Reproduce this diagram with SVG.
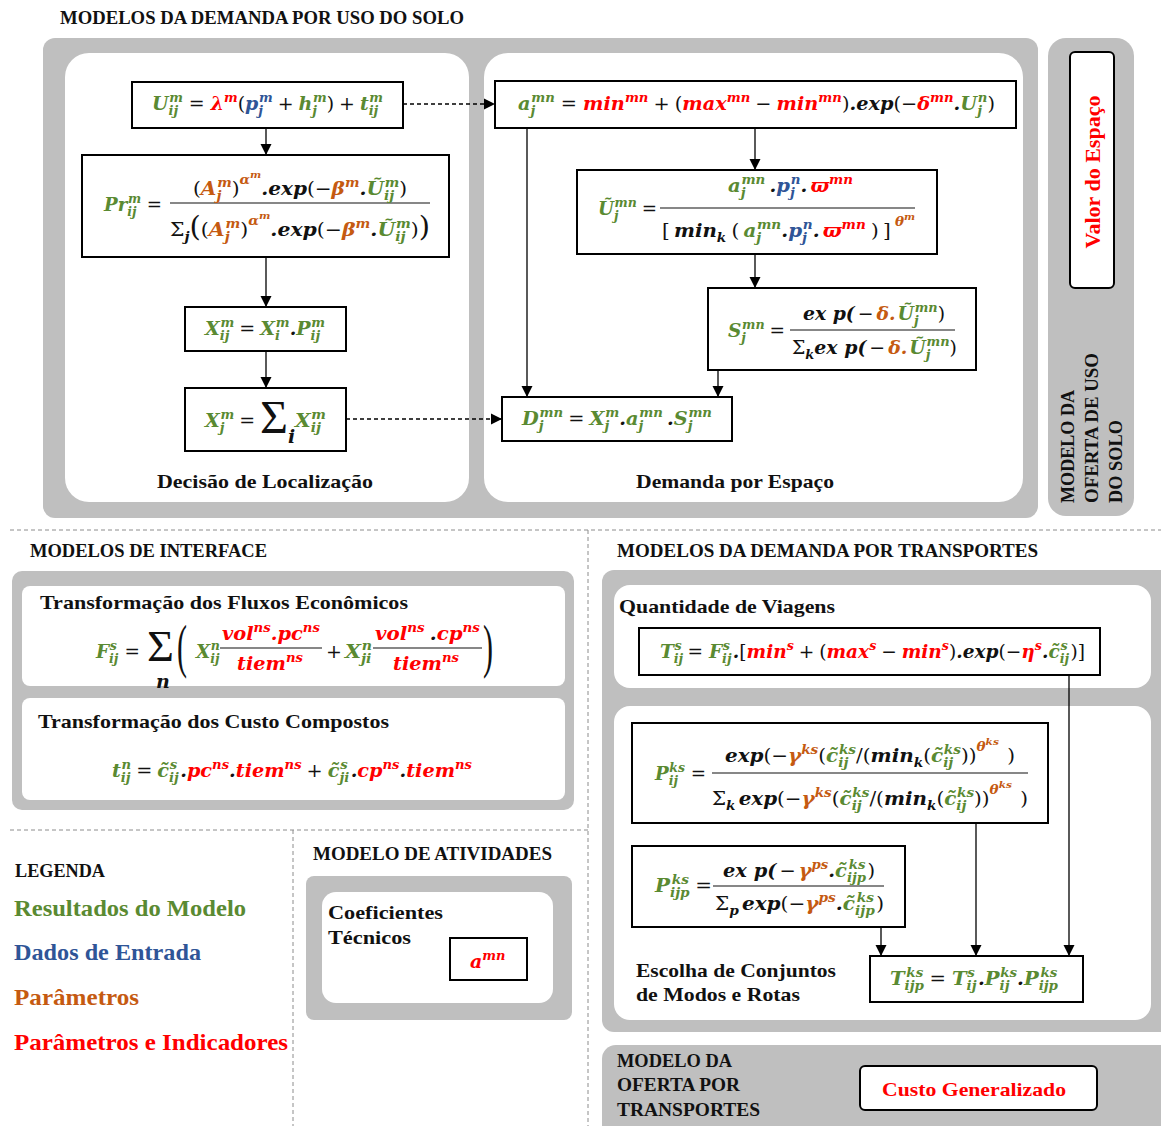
<svg xmlns="http://www.w3.org/2000/svg" width="1161" height="1126" viewBox="0 0 1161 1126">
  <defs>
    <marker id="arrow" markerUnits="userSpaceOnUse" markerWidth="12" markerHeight="12" refX="11" refY="6" orient="auto">
      <path d="M0,0.5 L11,6 L0,11.5 z" fill="#000"/>
    </marker>
    <style>
      .panel{fill:#BFBFBF}
      .inner{fill:#FFFFFF}
      .box{fill:#FFFFFF;stroke:#000;stroke-width:2}
      .sep{stroke:#8C8C8C;stroke-width:1;stroke-dasharray:4 3;fill:none}
      .conn{stroke:#000;stroke-width:1.3;fill:none;marker-end:url(#arrow)}
      .dash{stroke-dasharray:4 3}
      .frac{stroke:#111;stroke-width:1.2}
      .t{font-family:"Liberation Serif","DejaVu Serif",serif;font-weight:bold;fill:#111}
      .thin{font-weight:normal}
      .hd{font-size:19px}
      .lb{font-size:19px}
      .lg{font-size:23px}
      .m{font-family:"DejaVu Serif","Liberation Serif",serif;font-weight:bold;font-style:italic;font-size:19px;fill:#111}
      .u{font-style:normal;font-weight:normal}
      .sb{font-size:13px;baseline-shift:-5px}
      .sp{font-size:13px;baseline-shift:8px}
      .sp2{font-size:13px;baseline-shift:11px}
      .sp3{font-size:10px;baseline-shift:17px}
      .big{font-size:27px}
      .g{fill:#5A8A32}
      .b{fill:#2F5597}
      .o{fill:#C55A11}
      .r{fill:#FF0000}
    </style>
  </defs>

  <!-- section dividers -->
  <g id="dividers">
    <line class="sep" x1="10" y1="530" x2="1161" y2="530"/>
    <line class="sep" x1="588" y1="530" x2="588" y2="1126"/>
    <line class="sep" x1="10" y1="830" x2="588" y2="830"/>
    <line class="sep" x1="293" y1="830" x2="293" y2="1126"/>
  </g>

  <!-- land-use demand models -->
  <g id="land-use-demand">
    <text class="t hd" x="60" y="24" textLength="404" lengthAdjust="spacingAndGlyphs">MODELOS DA DEMANDA POR USO DO SOLO</text>
    <rect class="panel" x="43" y="38" width="995" height="480" rx="12"/>
    <rect class="inner" x="65" y="53" width="404" height="449" rx="24"/>
    <rect class="inner" x="484" y="53" width="539" height="449" rx="24"/>
    <text class="t lb" x="157" y="488" textLength="216" lengthAdjust="spacingAndGlyphs">Decisão de Localização</text>
    <text class="t lb" x="636" y="488" textLength="198" lengthAdjust="spacingAndGlyphs">Demanda por Espaço</text>
  </g>

  <!-- land-use supply model -->
  <g id="land-use-supply">
    <rect class="panel" x="1048" y="38" width="86" height="478" rx="18"/>
    <g id="node-space-value">
      <rect class="box" x="1070" y="52" width="44" height="236" rx="5"/>
      <text class="t" font-size="20" style="fill:#FF0000" text-anchor="middle" transform="translate(1100,172) rotate(-90)" textLength="153" lengthAdjust="spacingAndGlyphs">Valor do Espaço</text>
    </g>
    <text class="t" font-size="18" transform="translate(1074,503) rotate(-90)" textLength="113" lengthAdjust="spacingAndGlyphs">MODELO DA</text>
    <text class="t" font-size="18" transform="translate(1098,503) rotate(-90)" textLength="150" lengthAdjust="spacingAndGlyphs">OFERTA DE USO</text>
    <text class="t" font-size="18" transform="translate(1122,503) rotate(-90)" textLength="83" lengthAdjust="spacingAndGlyphs">DO SOLO</text>
  </g>

  <!-- location decision -->
  <g id="node-utility">
    <rect class="box" x="132" y="82" width="271" height="46"/>
    <text class="m" x="152" y="110" textLength="231" lengthAdjust="spacingAndGlyphs"><tspan class="g">U</tspan><tspan class="g sb">ij</tspan><tspan class="g sp" dx="-9">m</tspan><tspan class="u" dx="6">=</tspan><tspan class="r" dx="6">λ</tspan><tspan class="r sp">m</tspan><tspan class="u">(</tspan><tspan class="b">p</tspan><tspan class="b sb">j</tspan><tspan class="b sp" dx="-4">m</tspan><tspan class="u" dx="5">+</tspan><tspan class="g" dx="5">h</tspan><tspan class="g sb">j</tspan><tspan class="g sp" dx="-4">m</tspan><tspan class="u">)</tspan><tspan class="u" dx="5">+</tspan><tspan class="g" dx="5">t</tspan><tspan class="g sb">ij</tspan><tspan class="g sp" dx="-9">m</tspan></text>
  </g>

  <g id="node-probability">
    <rect class="box" x="82" y="155" width="367" height="102"/>
    <text class="m" x="104" y="211" textLength="58" lengthAdjust="spacingAndGlyphs"><tspan class="g">Pr</tspan><tspan class="g sb">ij</tspan><tspan class="g sp" dx="-9">m</tspan><tspan class="u" dx="6">=</tspan></text>
    <line class="frac" x1="170" y1="203" x2="430" y2="203"/>
    <text class="m" x="193" y="195" textLength="214" lengthAdjust="spacingAndGlyphs"><tspan class="u">(</tspan><tspan class="o">A</tspan><tspan class="o sb">j</tspan><tspan class="o sp" dx="-4">m</tspan><tspan class="u">)</tspan><tspan class="o sp2">α</tspan><tspan class="o sp3">m</tspan><tspan>.exp</tspan><tspan class="u">(−</tspan><tspan class="o">β</tspan><tspan class="o sp">m</tspan><tspan>.</tspan><tspan class="g">Ũ</tspan><tspan class="g sb">ij</tspan><tspan class="g sp" dx="-9">m</tspan><tspan class="u">)</tspan></text>
    <text class="m" x="170" y="236" textLength="260" lengthAdjust="spacingAndGlyphs"><tspan class="u">Σ</tspan><tspan class="sb">j</tspan><tspan class="u big">(</tspan><tspan class="u">(</tspan><tspan class="o">A</tspan><tspan class="o sb">j</tspan><tspan class="o sp" dx="-4">m</tspan><tspan class="u">)</tspan><tspan class="o sp2">α</tspan><tspan class="o sp3">m</tspan><tspan>.exp</tspan><tspan class="u">(−</tspan><tspan class="o">β</tspan><tspan class="o sp">m</tspan><tspan>.</tspan><tspan class="g">Ũ</tspan><tspan class="g sb">ij</tspan><tspan class="g sp" dx="-9">m</tspan><tspan class="u">)</tspan><tspan class="u big">)</tspan></text>
  </g>

  <g id="node-flows">
    <rect class="box" x="185" y="307" width="161" height="44"/>
    <text class="m" x="205" y="335" textLength="120" lengthAdjust="spacingAndGlyphs"><tspan class="g">X</tspan><tspan class="g sb">ij</tspan><tspan class="g sp" dx="-9">m</tspan><tspan class="u" dx="5">=</tspan><tspan class="g" dx="5">X</tspan><tspan class="g sb">i</tspan><tspan class="g sp" dx="-4">m</tspan><tspan>.</tspan><tspan class="g">P</tspan><tspan class="g sb">ij</tspan><tspan class="g sp" dx="-9">m</tspan></text>
  </g>

  <g id="node-total">
    <rect class="box" x="185" y="388" width="161" height="63"/>
    <text class="m" x="205" y="427" textLength="50" lengthAdjust="spacingAndGlyphs"><tspan class="g">X</tspan><tspan class="g sb">j</tspan><tspan class="g sp" dx="-4">m</tspan><tspan class="u" dx="5">=</tspan></text>
    <text class="t thin" x="260" y="433" font-size="46" textLength="28" lengthAdjust="spacingAndGlyphs">Σ</text>
    <text class="m" x="288" y="443" font-size="13">i</text>
    <text class="m" x="295" y="427" textLength="31" lengthAdjust="spacingAndGlyphs"><tspan class="g">X</tspan><tspan class="g sb">ij</tspan><tspan class="g sp" dx="-9">m</tspan></text>
  </g>

  <!-- space demand -->
  <g id="node-coefficient">
    <rect class="box" x="495" y="81" width="521" height="47"/>
    <text class="m" x="518" y="110" textLength="477" lengthAdjust="spacingAndGlyphs"><tspan class="g">a</tspan><tspan class="g sb">j</tspan><tspan class="g sp" dx="-4">mn</tspan><tspan class="u" dx="6">=</tspan><tspan class="r" dx="6">min</tspan><tspan class="r sp">mn</tspan><tspan class="u" dx="5">+</tspan><tspan class="u" dx="5">(</tspan><tspan class="r">max</tspan><tspan class="r sp">mn</tspan><tspan class="u" dx="5">−</tspan><tspan class="r" dx="5">min</tspan><tspan class="r sp">mn</tspan><tspan class="u">)</tspan><tspan>.exp</tspan><tspan class="u">(−</tspan><tspan class="r">δ</tspan><tspan class="r sp">mn</tspan><tspan>.</tspan><tspan class="g">U</tspan><tspan class="g sb">j</tspan><tspan class="g sp" dx="-4">n</tspan><tspan class="u">)</tspan></text>
  </g>

  <g id="node-relative-utility">
    <rect class="box" x="577" y="170" width="360" height="84"/>
    <text class="m" x="598" y="215" textLength="59" lengthAdjust="spacingAndGlyphs"><tspan class="g">Ũ</tspan><tspan class="g sb">j</tspan><tspan class="g sp" dx="-4">mn</tspan><tspan class="u" dx="5">=</tspan></text>
    <line class="frac" x1="660" y1="208" x2="915" y2="208"/>
    <text class="m" x="728" y="192" textLength="125" lengthAdjust="spacingAndGlyphs"><tspan class="g">a</tspan><tspan class="g sb">j</tspan><tspan class="g sp" dx="-4">mn</tspan><tspan dx="4">.</tspan><tspan class="b">p</tspan><tspan class="b sb">j</tspan><tspan class="b sp" dx="-4">n</tspan><tspan>.</tspan><tspan class="r" dx="3">ϖ</tspan><tspan class="r sp">mn</tspan></text>
    <text class="m" x="662" y="237" textLength="253" lengthAdjust="spacingAndGlyphs"><tspan class="u">[</tspan><tspan dx="4">min</tspan><tspan class="sb">k</tspan><tspan class="u" dx="5">(</tspan><tspan class="g" dx="4">a</tspan><tspan class="g sb">j</tspan><tspan class="g sp" dx="-4">mn</tspan><tspan>.</tspan><tspan class="b">p</tspan><tspan class="b sb">j</tspan><tspan class="b sp" dx="-4">n</tspan><tspan>.</tspan><tspan class="r" dx="3">ϖ</tspan><tspan class="r sp">mn</tspan><tspan class="u" dx="5">)</tspan><tspan class="u" dx="4">]</tspan><tspan class="o sp2" dx="4">θ</tspan><tspan class="o sp3">m</tspan></text>
  </g>

  <g id="node-share">
    <rect class="box" x="708" y="288" width="268" height="82"/>
    <text class="m" x="728" y="337" textLength="57" lengthAdjust="spacingAndGlyphs"><tspan class="g">S</tspan><tspan class="g sb">j</tspan><tspan class="g sp" dx="-4">mn</tspan><tspan class="u" dx="5">=</tspan></text>
    <line class="frac" x1="790" y1="330" x2="955" y2="330"/>
    <text class="m" x="803" y="320" textLength="142" lengthAdjust="spacingAndGlyphs"><tspan>ex p(</tspan><tspan class="u" dx="3">−</tspan><tspan class="o" dx="3">δ</tspan><tspan class="o">.</tspan><tspan class="g" dx="2">Ũ</tspan><tspan class="g sb">j</tspan><tspan class="g sp" dx="-4">mn</tspan><tspan class="u">)</tspan></text>
    <text class="m" x="792" y="354" textLength="165" lengthAdjust="spacingAndGlyphs"><tspan class="u">Σ</tspan><tspan class="sb">k</tspan><tspan>ex p(</tspan><tspan class="u" dx="3">−</tspan><tspan class="o" dx="3">δ</tspan><tspan class="o">.</tspan><tspan class="g" dx="2">Ũ</tspan><tspan class="g sb">j</tspan><tspan class="g sp" dx="-4">mn</tspan><tspan class="u">)</tspan></text>
  </g>

  <g id="node-demand">
    <rect class="box" x="502" y="397" width="230" height="44"/>
    <text class="m" x="522" y="425" textLength="190" lengthAdjust="spacingAndGlyphs"><tspan class="g">D</tspan><tspan class="g sb">j</tspan><tspan class="g sp" dx="-4">mn</tspan><tspan class="u" dx="5">=</tspan><tspan class="g" dx="5">X</tspan><tspan class="g sb">j</tspan><tspan class="g sp" dx="-4">m</tspan><tspan>.</tspan><tspan class="g">a</tspan><tspan class="g sb">j</tspan><tspan class="g sp" dx="-4">mn</tspan><tspan dx="4">.</tspan><tspan class="g">S</tspan><tspan class="g sb">j</tspan><tspan class="g sp" dx="-4">mn</tspan></text>
  </g>

  <!-- interface models -->
  <g id="interface">
    <text class="t hd" x="30" y="557" textLength="237" lengthAdjust="spacingAndGlyphs">MODELOS DE INTERFACE</text>
    <rect class="panel" x="12" y="571" width="562" height="239" rx="10"/>
    <rect class="inner" x="22" y="586" width="543" height="100" rx="8"/>
    <rect class="inner" x="22" y="698" width="543" height="102" rx="8"/>
  </g>

  <g id="node-economic-flows">
    <text class="t lb" x="40" y="609" textLength="368" lengthAdjust="spacingAndGlyphs">Transformação dos Fluxos Econômicos</text>
    <text class="m" x="96" y="658" textLength="44" lengthAdjust="spacingAndGlyphs"><tspan class="g">F</tspan><tspan class="g sb">ij</tspan><tspan class="g sp" dx="-9">s</tspan><tspan class="u" dx="8">=</tspan></text>
    <text class="t thin" x="147" y="661" font-size="45" textLength="27" lengthAdjust="spacingAndGlyphs">Σ</text>
    <text class="m" x="156" y="688" font-size="13">n</text>
    <text class="t thin" x="177" y="666" font-size="60" textLength="10" lengthAdjust="spacingAndGlyphs">(</text>
    <text class="m" x="196" y="658" textLength="24" lengthAdjust="spacingAndGlyphs"><tspan class="g">X</tspan><tspan class="g sb">ij</tspan><tspan class="g sp" dx="-9">n</tspan></text>
    <line class="frac" x1="220" y1="648" x2="322" y2="648"/>
    <text class="m r" x="222" y="640" textLength="98" lengthAdjust="spacingAndGlyphs">vol<tspan class="sp">ns</tspan>.pc<tspan class="sp">ns</tspan></text>
    <text class="m r" x="237" y="670" textLength="66" lengthAdjust="spacingAndGlyphs">tiem<tspan class="sp">ns</tspan></text>
    <text class="m u" x="326" y="658">+</text>
    <text class="m" x="345" y="658" textLength="27" lengthAdjust="spacingAndGlyphs"><tspan class="g">X</tspan><tspan class="g sb">ji</tspan><tspan class="g sp" dx="-9">n</tspan></text>
    <line class="frac" x1="373" y1="648" x2="482" y2="648"/>
    <text class="m" x="375" y="640" textLength="105" lengthAdjust="spacingAndGlyphs"><tspan class="r">vol</tspan><tspan class="r sp">ns</tspan><tspan dx="5">.</tspan><tspan class="r">cp</tspan><tspan class="r sp">ns</tspan></text>
    <text class="m r" x="393" y="670" textLength="66" lengthAdjust="spacingAndGlyphs">tiem<tspan class="sp">ns</tspan></text>
    <text class="t thin" x="483" y="666" font-size="60" textLength="10" lengthAdjust="spacingAndGlyphs">)</text>
  </g>

  <g id="node-composite-costs">
    <text class="t lb" x="38" y="728" textLength="351" lengthAdjust="spacingAndGlyphs">Transformação dos Custo Compostos</text>
    <text class="m" x="112" y="777" textLength="360" lengthAdjust="spacingAndGlyphs"><tspan class="g">t</tspan><tspan class="g sb">ij</tspan><tspan class="g sp" dx="-9">n</tspan><tspan class="u" dx="5">=</tspan><tspan class="g" dx="5">c̃</tspan><tspan class="g sb">ij</tspan><tspan class="g sp" dx="-9">s</tspan><tspan dx="3">.</tspan><tspan class="r">pc</tspan><tspan class="r sp">ns</tspan><tspan>.</tspan><tspan class="r">tiem</tspan><tspan class="r sp">ns</tspan><tspan class="u" dx="5">+</tspan><tspan class="g" dx="5">c̃</tspan><tspan class="g sb">ji</tspan><tspan class="g sp" dx="-9">s</tspan><tspan dx="3">.</tspan><tspan class="r">cp</tspan><tspan class="r sp">ns</tspan><tspan>.</tspan><tspan class="r">tiem</tspan><tspan class="r sp">ns</tspan></text>
  </g>

  <!-- transport demand models -->
  <g id="transport-demand">
    <text class="t hd" x="617" y="557" textLength="421" lengthAdjust="spacingAndGlyphs">MODELOS DA DEMANDA POR TRANSPORTES</text>
    <rect class="panel" x="602" y="570" width="575" height="462" rx="12"/>
    <rect class="inner" x="614" y="585" width="537" height="103" rx="16"/>
    <rect class="inner" x="614" y="706" width="537" height="314" rx="16"/>
    <text class="t lb" x="619" y="613" textLength="216" lengthAdjust="spacingAndGlyphs">Quantidade de Viagens</text>
    <text class="t lb" x="636" y="977" textLength="200" lengthAdjust="spacingAndGlyphs">Escolha de Conjuntos</text>
    <text class="t lb" x="636" y="1001" textLength="164" lengthAdjust="spacingAndGlyphs">de Modos e Rotas</text>
  </g>

  <g id="node-trips">
    <rect class="box" x="639" y="628" width="461" height="47"/>
    <text class="m" x="660" y="658" textLength="425" lengthAdjust="spacingAndGlyphs"><tspan class="g">T</tspan><tspan class="g sb">ij</tspan><tspan class="g sp" dx="-9">s</tspan><tspan class="u" dx="6">=</tspan><tspan class="g" dx="6">F</tspan><tspan class="g sb">ij</tspan><tspan class="g sp" dx="-9">s</tspan><tspan dx="3">.</tspan><tspan class="u">[</tspan><tspan class="r">min</tspan><tspan class="r sp">s</tspan><tspan class="u" dx="5">+</tspan><tspan class="u" dx="5">(</tspan><tspan class="r">max</tspan><tspan class="r sp">s</tspan><tspan class="u" dx="5">−</tspan><tspan class="r" dx="5">min</tspan><tspan class="r sp">s</tspan><tspan class="u">)</tspan><tspan>.exp</tspan><tspan class="u">(−</tspan><tspan class="r">η</tspan><tspan class="r sp">s</tspan><tspan>.</tspan><tspan class="g">c̃</tspan><tspan class="g sb">ij</tspan><tspan class="g sp" dx="-9">s</tspan><tspan class="u" dx="3">)]</tspan></text>
  </g>

  <g id="node-mode-choice">
    <rect class="box" x="632" y="723" width="416" height="100"/>
    <text class="m" x="655" y="780" textLength="51" lengthAdjust="spacingAndGlyphs"><tspan class="g">P</tspan><tspan class="g sb">ij</tspan><tspan class="g sp" dx="-9">ks</tspan><tspan class="u" dx="6">=</tspan></text>
    <line class="frac" x1="712" y1="773" x2="1028" y2="773"/>
    <text class="m" x="725" y="762" textLength="290" lengthAdjust="spacingAndGlyphs"><tspan>exp</tspan><tspan class="u">(−</tspan><tspan class="o">γ</tspan><tspan class="o sp">ks</tspan><tspan class="u">(</tspan><tspan class="g">c̃</tspan><tspan class="g sb">ij</tspan><tspan class="g sp" dx="-9">ks</tspan><tspan class="u">/(</tspan><tspan>min</tspan><tspan class="sb">k</tspan><tspan class="u">(</tspan><tspan class="g">c̃</tspan><tspan class="g sb">ij</tspan><tspan class="g sp" dx="-9">ks</tspan><tspan class="u">))</tspan><tspan class="o sp2">θ</tspan><tspan class="o sp3">ks</tspan><tspan class="u" dx="8">)</tspan></text>
    <text class="m" x="712" y="805" textLength="316" lengthAdjust="spacingAndGlyphs"><tspan class="u">Σ</tspan><tspan class="sb">k</tspan><tspan dx="3">exp</tspan><tspan class="u">(−</tspan><tspan class="o">γ</tspan><tspan class="o sp">ks</tspan><tspan class="u">(</tspan><tspan class="g">c̃</tspan><tspan class="g sb">ij</tspan><tspan class="g sp" dx="-9">ks</tspan><tspan class="u">/(</tspan><tspan>min</tspan><tspan class="sb">k</tspan><tspan class="u">(</tspan><tspan class="g">c̃</tspan><tspan class="g sb">ij</tspan><tspan class="g sp" dx="-9">ks</tspan><tspan class="u">))</tspan><tspan class="o sp2">θ</tspan><tspan class="o sp3">ks</tspan><tspan class="u" dx="8">)</tspan></text>
  </g>

  <g id="node-route-choice">
    <rect class="box" x="632" y="846" width="273" height="81"/>
    <text class="m" x="655" y="892" textLength="57" lengthAdjust="spacingAndGlyphs"><tspan class="g">P</tspan><tspan class="g sb">ijp</tspan><tspan class="g sp" dx="-17">ks</tspan><tspan class="u" dx="6">=</tspan></text>
    <line class="frac" x1="713" y1="886" x2="884" y2="886"/>
    <text class="m" x="723" y="877" textLength="152" lengthAdjust="spacingAndGlyphs"><tspan>ex p(</tspan><tspan class="u" dx="3">−</tspan><tspan class="o" dx="3">γ</tspan><tspan class="o sp">ps</tspan><tspan>.</tspan><tspan class="g">c̃</tspan><tspan class="g sb">ijp</tspan><tspan class="g sp" dx="-17">ks</tspan><tspan class="u" dx="2">)</tspan></text>
    <text class="m" x="715" y="910" textLength="169" lengthAdjust="spacingAndGlyphs"><tspan class="u">Σ</tspan><tspan class="sb">p</tspan><tspan dx="3">exp</tspan><tspan class="u">(−</tspan><tspan class="o">γ</tspan><tspan class="o sp">ps</tspan><tspan>.</tspan><tspan class="g">c̃</tspan><tspan class="g sb">ijp</tspan><tspan class="g sp" dx="-17">ks</tspan><tspan class="u" dx="2">)</tspan></text>
  </g>

  <g id="node-route-trips">
    <rect class="box" x="870" y="956" width="213" height="46"/>
    <text class="m" x="890" y="985" textLength="168" lengthAdjust="spacingAndGlyphs"><tspan class="g">T</tspan><tspan class="g sb">ijp</tspan><tspan class="g sp" dx="-17">ks</tspan><tspan class="u" dx="6">=</tspan><tspan class="g" dx="6">T</tspan><tspan class="g sb">ij</tspan><tspan class="g sp" dx="-9">s</tspan><tspan dx="3">.</tspan><tspan class="g">P</tspan><tspan class="g sb">ij</tspan><tspan class="g sp" dx="-9">ks</tspan><tspan>.</tspan><tspan class="g">P</tspan><tspan class="g sb">ijp</tspan><tspan class="g sp" dx="-17">ks</tspan></text>
  </g>

  <!-- transport supply model -->
  <g id="transport-supply">
    <rect class="panel" x="602" y="1045" width="575" height="100" rx="14"/>
    <text class="t" font-size="19" x="617" y="1067" textLength="115" lengthAdjust="spacingAndGlyphs">MODELO DA</text>
    <text class="t" font-size="19" x="617" y="1091" textLength="123" lengthAdjust="spacingAndGlyphs">OFERTA POR</text>
    <text class="t" font-size="19" x="617" y="1116" textLength="143" lengthAdjust="spacingAndGlyphs">TRANSPORTES</text>
    <g id="node-generalized-cost">
      <rect class="box" x="860" y="1066" width="237" height="44" rx="5"/>
      <text class="t" font-size="19" x="882" y="1096" style="fill:#FF0000" textLength="184" lengthAdjust="spacingAndGlyphs">Custo Generalizado</text>
    </g>
  </g>

  <!-- legend -->
  <g id="legend">
    <text class="t" font-size="19" x="15" y="877" textLength="90" lengthAdjust="spacingAndGlyphs">LEGENDA</text>
    <text class="t lg" x="14" y="916" style="fill:#5A8A32" textLength="232" lengthAdjust="spacingAndGlyphs">Resultados do Modelo</text>
    <text class="t lg" x="14" y="960" style="fill:#2F5597" textLength="187" lengthAdjust="spacingAndGlyphs">Dados de Entrada</text>
    <text class="t lg" x="14" y="1005" style="fill:#C55A11" textLength="125" lengthAdjust="spacingAndGlyphs">Parâmetros</text>
    <text class="t lg" x="14" y="1050" style="fill:#FF0000" textLength="274" lengthAdjust="spacingAndGlyphs">Parâmetros e Indicadores</text>
  </g>

  <!-- activity model -->
  <g id="activities">
    <text class="t hd" x="313" y="860" textLength="239" lengthAdjust="spacingAndGlyphs">MODELO DE ATIVIDADES</text>
    <rect class="panel" x="306" y="876" width="266" height="144" rx="8"/>
    <rect class="inner" x="322" y="892" width="231" height="111" rx="14"/>
    <text class="t lb" x="328" y="919" textLength="115" lengthAdjust="spacingAndGlyphs">Coeficientes</text>
    <text class="t lb" x="328" y="944" textLength="83" lengthAdjust="spacingAndGlyphs">Técnicos</text>
    <g id="node-technical-coefficient">
      <rect class="box" x="450" y="938" width="77" height="42"/>
      <text class="m r" x="470" y="968" font-size="21">a<tspan class="sp" font-size="14">mn</tspan></text>
    </g>
  </g>

  <!-- connectors -->
  <g id="connectors">
    <line class="conn" x1="266" y1="128" x2="266" y2="155"/>
    <line class="conn" x1="266" y1="257" x2="266" y2="307"/>
    <line class="conn" x1="266" y1="351" x2="266" y2="388"/>
    <line class="conn" x1="755" y1="128" x2="755" y2="170"/>
    <line class="conn" x1="755" y1="254" x2="755" y2="288"/>
    <line class="conn" x1="527" y1="128" x2="527" y2="397"/>
    <line class="conn" x1="718" y1="370" x2="718" y2="397"/>
    <line class="conn" x1="881" y1="927" x2="881" y2="956"/>
    <line class="conn" x1="976" y1="823" x2="976" y2="956"/>
    <line class="conn" x1="1069" y1="675" x2="1069" y2="956"/>
    <line class="conn dash" x1="403" y1="104" x2="495" y2="104"/>
    <line class="conn dash" x1="346" y1="419" x2="502" y2="419"/>
  </g>
</svg>
